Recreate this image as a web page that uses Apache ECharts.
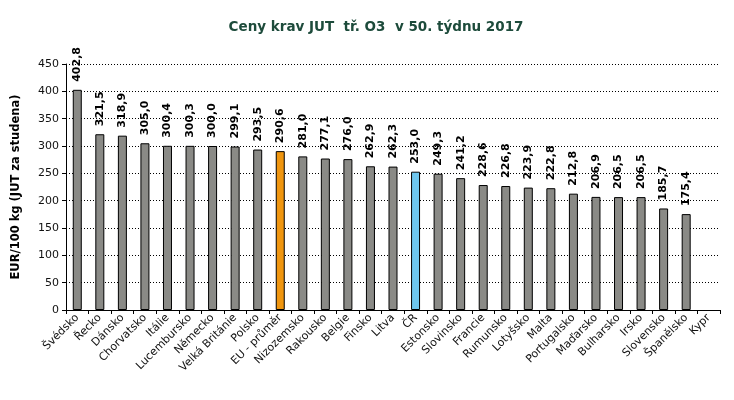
<!DOCTYPE html>
<html>
<head>
<meta charset="utf-8">
<script src="https://cdn.jsdelivr.net/npm/echarts@6/dist/echarts.min.js"></script>
<style>
  html, body { margin: 0; padding: 0; background: #fff; }
  #chart { width: 734px; height: 400px; }
</style>
</head>
<body>
<div id="chart"></div>
<script>
  // data
  const categories = ['Švédsko', 'Řecko', 'Dánsko', 'Chorvatsko', 'Itálie', 'Lucembursko', 'Německo',
    'Velká Británie', 'Polsko', 'EU - průměr', 'Nizozemsko', 'Rakousko', 'Belgie', 'Finsko', 'Litva',
    'ČR', 'Estonsko', 'Slovinsko', 'Francie', 'Rumunsko', 'Lotyšsko', 'Malta', 'Portugalsko',
    'Maďarsko', 'Bulharsko', 'Irsko', 'Slovensko', 'Španělsko', 'Kypr'];
  const prices = [402.8, 321.5, 318.9, 305.0, 300.4, 300.3, 300.0, 299.1, 293.5, 290.6, 281.0, 277.1,
    276.0, 262.9, 262.3, 253.0, 249.3, 241.2, 228.6, 226.8, 223.9, 222.8, 212.8, 206.9, 206.5, 206.5,
    185.7, 175.4, null];
  const yTicks = [0, 50, 100, 150, 200, 250, 300, 350, 400, 450];

  const colorGray = '#8a8a86';
  const colorEU = '#f0960f';
  const colorCR = '#6ec6ee';

  const chart = echarts.init(document.getElementById('chart'));

  const barData = prices.map((v, i) => {
    let c = colorGray;
    if (categories[i] === 'EU - průměr') c = colorEU;
    if (categories[i] === 'ČR') c = colorCR;
    return { value: v, itemStyle: { color: c } };
  });

  const option = {
    animation: false,
    textStyle: { fontFamily: 'DejaVu Sans' },
    title: {
      text: 'Ceny krav JUT  tř. O3  v 50. týdnu 2017',
      left: 371,
      textAlign: 'center',
      top: 15,
      textStyle: { color: '#1d4b3b', fontSize: 13.5, fontWeight: 'bold', fontFamily: 'DejaVu Sans' },
    },
    grid: { left: 66, right: 14, top: 64, bottom: 90 },
    xAxis: {
      type: 'category',
      data: categories,
      axisLine: { lineStyle: { color: '#000', width: 1 } },
      axisTick: { show: true, length: 4, lineStyle: { color: '#000' } },
      axisLabel: {
        interval: 0,
        rotate: 45,
        color: '#111',
        fontSize: 11,
        margin: 6,
        fontFamily: 'DejaVu Sans',
      },
    },
    yAxis: {
      type: 'value',
      min: yTicks[0],
      max: yTicks[yTicks.length - 1],
      interval: 50,
      name: 'EUR/100 kg (JUT za studena)',
      nameLocation: 'middle',
      nameGap: 44,
      nameTextStyle: { color: '#000', fontSize: 11.5, fontWeight: 'bold', fontFamily: 'DejaVu Sans' },
      axisLine: { show: true, lineStyle: { color: '#000' } },
      axisTick: { show: true, length: 4, lineStyle: { color: '#000' } },
      axisLabel: { color: '#111', fontSize: 11, margin: 7 },
      splitLine: { show: true, lineStyle: { color: '#000', type: [1, 2], width: 1 } },
    },
    series: [
      {
        type: 'bar',
        data: barData,
        barWidth: 9,
        itemStyle: { borderColor: '#000', borderWidth: 1 },
        label: {
          show: true,
          position: 'top',
          rotate: 90,
          align: 'left',
          verticalAlign: 'middle',
          distance: 8,
          color: '#000',
          fontSize: 11,
          fontWeight: 'bold',
          fontFamily: 'DejaVu Sans',
          formatter: (p) => (p.value == null ? '' : p.value.toFixed(1).replace('.', ',')),
        },
      },
    ],
  };
  chart.setOption(option);
</script>
</body>
</html>
